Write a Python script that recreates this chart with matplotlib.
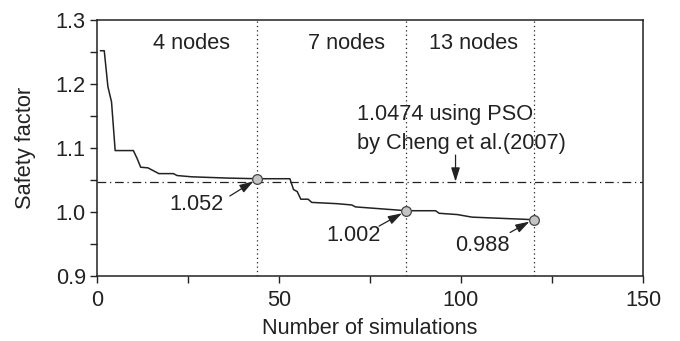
import matplotlib
matplotlib.use("Agg")
import matplotlib.pyplot as plt
from matplotlib.ticker import MultipleLocator

plt.rcParams["font.family"] = ["Liberation Sans", "DejaVu Sans"]

# convergence of the safety factor
sims = [1, 2, 3, 4, 5, 10, 11, 12, 14, 17, 21, 22, 26, 31, 36, 44, 53, 54, 55,
        56, 58, 59, 66, 70, 71, 85, 93, 94, 99, 103, 120]
fs = [1.252, 1.252, 1.196, 1.172, 1.096, 1.096, 1.084, 1.070, 1.069, 1.060,
      1.060, 1.057, 1.055, 1.054, 1.053, 1.052, 1.052, 1.035, 1.032, 1.020,
      1.020, 1.015, 1.013, 1.011, 1.008, 1.002, 1.002, 0.998, 0.996, 0.992,
      0.988]

# node-change points and labels
node_x = [44, 85, 120]
node_fs = [1.052, 1.002, 0.988]
node_labels = ["1.052", "1.002", "0.988"]
stage_labels = ["4 nodes", "7 nodes", "13 nodes"]
stage_x = [26, 68.5, 103.5]
pso_fs = 1.0474

dark = "#222222"
FS = 15.7

fig = plt.figure(figsize=(6.8, 3.41), dpi=100)
ax = fig.add_axes([0.1426, 0.1906, 0.8030, 0.7507])

ax.plot(sims, fs, color=dark, lw=1.1, zorder=3)
ax.axhline(pso_fs, color=dark, lw=0.9, ls=(0, (7, 3, 1, 3)), zorder=2)
for xv in node_x:
    ax.axvline(xv, color=dark, lw=0.9, ls=(0, (1, 2.5)), zorder=1)
ax.plot(node_x, node_fs, "o", ms=7, mfc="#c4c4c4", mec="#444444", mew=0.9, zorder=4)

for lab, xv in zip(stage_labels, stage_x):
    ax.text(xv, 1.264, lab, ha="center", va="center", fontsize=FS, color=dark)

ax.text(71.5, 1.152, "1.0474 using PSO", ha="left", va="center", fontsize=FS, color=dark)
ax.text(71.5, 1.107, "by Cheng et al.(2007)", ha="left", va="center", fontsize=FS, color=dark)

arrow_style = dict(arrowstyle="-|>,head_length=0.7,head_width=0.22", color=dark,
                   lw=0.9, mutation_scale=12, shrinkA=0, shrinkB=0)
ax.annotate("", xy=(98.5, pso_fs), xytext=(98.5, 1.089), arrowprops=arrow_style)

label_pos = [(20, 1.011), (63, 0.964), (98.5, 0.948)]
arrow_tail = [(36.5, 1.025), (77.5, 0.978), (113.5, 0.968)]
arrow_head = [(43.0, 1.048), (83.8, 0.998), (118.8, 0.985)]
for lab, (tx, ty), tail, head in zip(node_labels, label_pos, arrow_tail, arrow_head):
    ax.text(tx, ty, lab, ha="left", va="center", fontsize=FS, color=dark)
    ax.annotate("", xy=head, xytext=tail, arrowprops=arrow_style)

ax.set_xlim(0, 150)
ax.set_ylim(0.9, 1.3)
ax.xaxis.set_major_locator(MultipleLocator(50))
ax.xaxis.set_minor_locator(MultipleLocator(25))
ax.yaxis.set_minor_locator(MultipleLocator(0.05))
ax.set_yticks([0.9, 1.0, 1.1, 1.2, 1.3])
ax.set_yticklabels(["0.9", "1.0", "1.1", "1.2", "1.3"])
ax.tick_params(which="both", direction="out", length=5, width=1, color=dark,
               labelsize=FS, labelcolor=dark)
ax.tick_params(axis="x", pad=5)
ax.tick_params(axis="y", pad=3)

for sp in ax.spines.values():
    sp.set_color(dark)
    sp.set_linewidth(1.1)

ax.set_xlabel("Number of simulations", fontsize=FS, color=dark, labelpad=5)
ax.set_ylabel("Safety factor", fontsize=FS, color=dark, labelpad=14)

fig.savefig("out.png", dpi=100)
